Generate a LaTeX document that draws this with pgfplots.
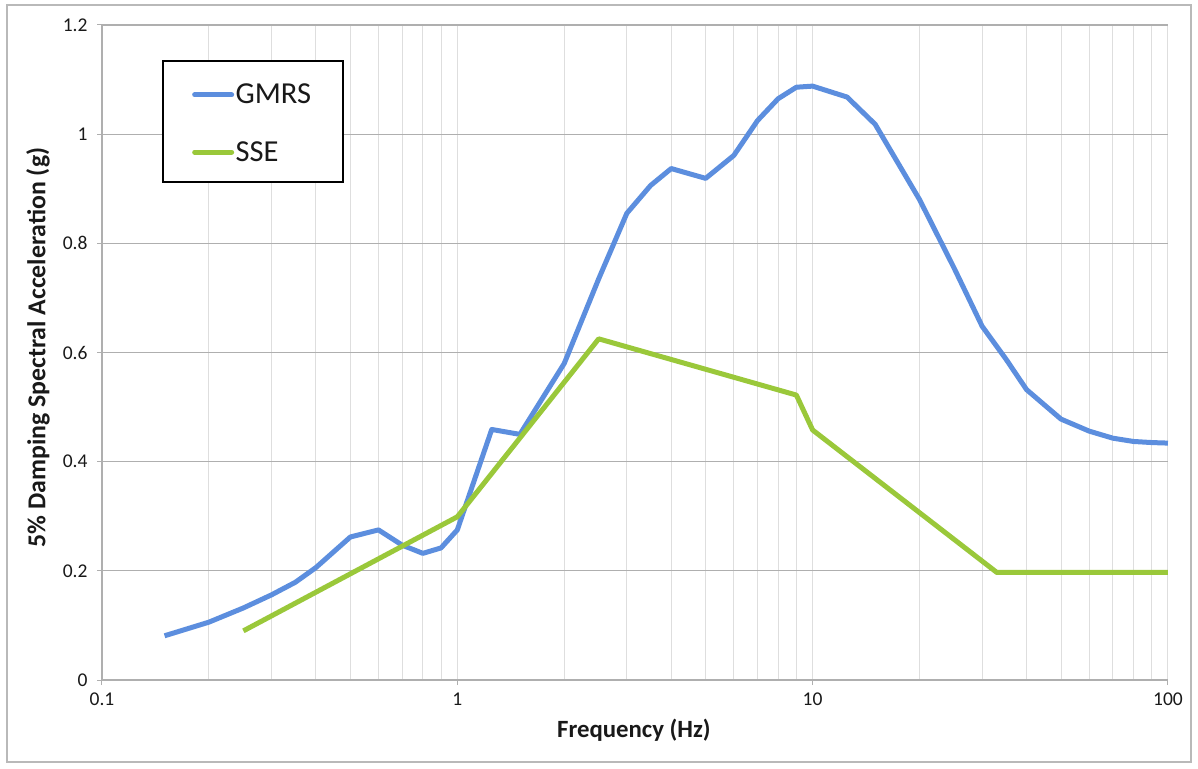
\documentclass[border=0pt]{standalone}
\usepackage{pgfplots}
\pgfplotsset{compat=1.18}
\usepackage{fontspec}
\setmainfont{Carlito}
\definecolor{gmrs}{RGB}{92,142,222}
\definecolor{sse}{RGB}{154,200,58}
\definecolor{majgrid}{RGB}{175,175,175}
\definecolor{mingrid}{RGB}{222,222,222}
\begin{document}
\begin{tikzpicture}[x=1pt,y=1pt]
\useasboundingbox (0,0) rectangle (1198,768);
\draw[gray!55, line width=1.2pt] (7,6) rectangle (1191,763);
\begin{axis}[
  at={(102pt,88pt)}, anchor=south west,
  scale only axis, width=1066pt, height=655pt,
  xmode=log, xmin=0.1, xmax=100, ymin=0, ymax=1.2,
  ytick={0,0.2,...,1.2},
  yticklabels={0,0.2,0.4,0.6,0.8,1,1.2},
  xtick={0.1,1,10,100},
  xticklabels={0.1,1,10,100},
  minor xtick={0.2,0.3,0.4,0.5,0.6,0.7,0.8,0.9,2,3,4,5,6,7,8,9,20,30,40,50,60,70,80,90},
  /pgf/number format/assume math mode=true,
  ticklabel style={font=\fontsize{19.5}{23}\selectfont, text=black!90},
  yticklabel style={xshift=-6pt},
  xticklabel style={yshift=-4pt},
  tick align=outside, major tick length=5pt, minor tick length=0pt,
  tick style={majgrid, line width=1pt},
  ymajorgrids, xmajorgrids, xminorgrids,
  major grid style={mingrid, line width=0.9pt},
  minor grid style={mingrid, line width=0.9pt},
  axis line style={majgrid, line width=1.2pt},
  axis x line*=bottom, axis y line*=left,
  xlabel={\textbf{Frequency (Hz)}},
  ylabel={\textbf{5\% Damping Spectral Acceleration (g)}},
  xlabel style={font=\fontsize{24.8}{29}\selectfont, text=black!90, at={(axis description cs:0.499,-0.0763)}, anchor=center},
  ylabel style={font=\fontsize{25.8}{30}\selectfont, text=black!90, at={(axis description cs:-0.060,0.5076)}, anchor=center},
  clip=false,
  legend style={draw=none, fill=none, at={(rel axis cs:0.0844,0.910)}, anchor=north west, inner sep=0pt, row sep=36pt,
    font=\fontsize{30.5}{35}\selectfont, text=black!90, nodes={inner xsep=1.5pt, inner ysep=0pt}},
  legend cell align=left,
  legend image code/.code={\draw[#1, line width=5pt, line cap=round] (0pt,0pt) -- (37pt,0pt);},
]
\pgfplotsinvokeforeach{0.2,0.4,0.6,0.8,1.0,1.2}{
  \draw[majgrid, line width=1.1pt] (axis cs:0.1,#1) -- (axis cs:100,#1);
}
\filldraw[fill=white, draw=black, line width=1.3pt] (rel axis cs:0.0572,0.9450) rectangle (rel axis cs:0.2261,0.7603);
\addplot[gmrs, line width=5pt, line join=round] coordinates {
(0.15,0.081) (0.2,0.106) (0.25,0.132) (0.3,0.156) (0.35,0.179) (0.4,0.206)
(0.5,0.262) (0.6,0.275) (0.7,0.247) (0.8,0.232) (0.9,0.242) (1.0,0.275)
(1.25,0.459) (1.5,0.450) (2.0,0.580) (2.5,0.735) (3.0,0.855) (3.5,0.906)
(4.0,0.937) (5.0,0.919) (6.0,0.961) (7.0,1.025) (8.0,1.065) (9.0,1.086)
(10,1.088) (12.5,1.068) (15,1.018) (20,0.880) (25,0.755) (30,0.648)
(35,0.588) (40,0.532) (50,0.478) (60,0.456) (70,0.443) (80,0.437)
(90,0.435) (100,0.434)
};
\addlegendentry{GMRS}
\addplot[sse, line width=5pt, line join=round] coordinates {
(0.25,0.09) (1.0,0.299) (2.5,0.625) (9.0,0.522) (10,0.458) (33,0.197) (100,0.197)
};
\addlegendentry{SSE}
\end{axis}
\end{tikzpicture}
\end{document}
